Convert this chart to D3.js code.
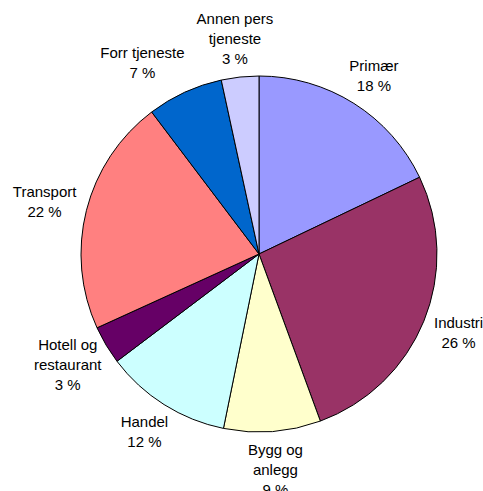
<!DOCTYPE html>
<html>
<head>
<meta charset="utf-8">
<script src="https://cdn.jsdelivr.net/npm/d3@7"></script>
<style>
  body { margin: 0; background: #fff; }
  text { font-family: Arial, "Liberation Sans", sans-serif; font-size: 15px; fill: #000; }
</style>
</head>
<body>
<div id="chart"></div>
<script>
// Chart size
var width = 483;
var height = 491;

// Data (clockwise from 12 o'clock)
var categories = [
  ["Primær"],
  ["Industri"],
  ["Bygg og", "anlegg"],
  ["Handel"],
  ["Hotell og", "restaurant"],
  ["Transport"],
  ["Forr tjeneste"],
  ["Annen pers", "tjeneste"]
];
var values = [17.9, 26.49, 8.8, 11.5, 3.49, 21.5, 6.9, 3.4];
var colors = ["#9999ff", "#993366", "#ffffcc", "#ccffff", "#660066", "#ff8080", "#0066cc", "#ccccff"];

var total = d3.sum(values);
var data = values.map(function (v, i) {
  return { name: categories[i], value: v, color: colors[i] };
});

var cx = 259, cy = 254, radius = 178, anchorRadius = 197;
var lineHeight = 20;

var svg = d3.select("#chart").append("svg")
  .attr("width", width)
  .attr("height", height);

var g = svg.append("g")
  .attr("transform", "translate(" + cx + "," + cy + ")");

var pie = d3.pie()
  .sort(null)
  .value(function (d) { return d.value; });

var arc = d3.arc()
  .innerRadius(0)
  .outerRadius(radius);

// Slices
g.selectAll("path")
  .data(pie(data))
  .enter()
  .append("path")
  .attr("d", arc)
  .attr("fill", function (d) { return d.data.color; })
  .attr("stroke", "#000")
  .attr("stroke-width", 1)
  .attr("stroke-linejoin", "round");

// Labels: name lines + rounded percent
var labels = g.selectAll("text.label")
  .data(pie(data))
  .enter()
  .append("text")
  .attr("class", "label")
  .attr("text-anchor", "middle");

labels.each(function (d) {
  var lines = d.data.name.concat([Math.round(d.data.value / total * 100) + " %"]);
  var t = d3.select(this);
  var first = -(lines.length - 1) * lineHeight / 2 + 5;
  lines.forEach(function (line, i) {
    t.append("tspan")
      .attr("x", 0)
      .attr("y", first + i * lineHeight)
      .text(line);
  });
  // box sits just outside the pie, pushed out along the mid angle
  var a = (d.startAngle + d.endAngle) / 2;
  var w = this.getBBox().width;
  var h = lines.length * lineHeight;
  d.lx = Math.sin(a) * (anchorRadius + w / 2 * 0.75);
  d.ly = -Math.cos(a) * (anchorRadius + h / 2 * 0.65);
  d.w = w;
  d.h = h;
});

// simple overlap pass: push a label sideways away from its neighbour
var nodes = labels.data();
for (var i = 0; i < nodes.length; i++) {
  for (var j = 0; j < nodes.length; j++) {
    if (i === j) continue;
    var p = nodes[i], q = nodes[j];
    var ox = (p.w + q.w) / 2 + 12 - Math.abs(p.lx - q.lx);
    var oy = (p.h + q.h) / 2 - Math.abs(p.ly - q.ly);
    if (ox > 0 && oy > 0 && p.lx < q.lx && p.lx < 0) {
      p.lx -= ox;
    }
  }
}

labels.attr("transform", function (d) {
  return "translate(" + d.lx + "," + d.ly + ")";
});
</script>
</body>
</html>
